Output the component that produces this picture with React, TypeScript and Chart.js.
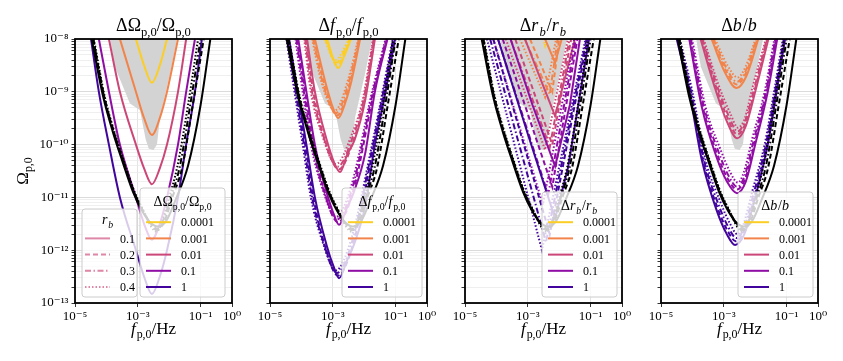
import React, { useEffect, useRef } from 'react';
import { Chart, registerables } from 'chart.js';

Chart.register(...registerables);

type Pt = [number, number]; // [log10 f, log10 Omega]
type Seg = { t: string; it?: boolean; sub?: boolean };

// ---------------- data ----------------
const levelLabels = ['0.0001', '0.001', '0.01', '0.1', '1'];
const rbLabels = ['0.1', '0.2', '0.3', '0.4'];
const levelColors = ['#fcce25', '#f2844b', '#cc4778', '#8f0da4', '#41049d'];
const xTickValues = [1e-5, 1e-3, 1e-1, 1];
const yDecades = [-13, -12, -11, -10, -9, -8];

// gray region (lower boundary, filled up to the top of the axis)
const grayRegion: Pt[] = [
  [-3.88, -8], [-3.73, -8.53], [-3.25, -9.22], [-2.93, -9.35], [-2.75, -9.9], [-2.65, -10.08],
  [-2.5, -10.1], [-2.39, -10.0], [-2.29, -9.48], [-1.97, -8.65], [-1.75, -8],
];

// black curves: r_b = 0.1 (solid), 0.2 (dashed), 0.3 (dash-dot), 0.4 (dotted)
const blackCurves: Pt[][] = [
  [[-4.47, -8], [-4.1, -9.1], [-3.8, -9.75], [-3.5, -10.3], [-3.15, -10.9], [-2.87, -11.25], [-2.61, -11.47], [-2.35, -11.55], [-2.1, -11.45], [-1.8, -11.05], [-1.4, -10.4], [-1.0, -9.25], [-0.69, -8]],
  [[-4.42, -8], [-4.07, -9.1], [-3.77, -9.75], [-3.47, -10.3], [-3.12, -10.9], [-2.84, -11.25], [-2.58, -11.5], [-2.35, -11.6], [-2.15, -11.45], [-1.9, -11.0], [-1.59, -10.44], [-1.25, -9.25], [-0.9, -8]],
  [[-4.42, -8], [-4.07, -9.1], [-3.77, -9.75], [-3.47, -10.3], [-3.12, -10.9], [-2.84, -11.25], [-2.58, -11.52], [-2.38, -11.62], [-2.2, -11.45], [-1.95, -11.0], [-1.67, -10.44], [-1.33, -9.25], [-1.0, -8]],
  [[-4.4, -8], [-4.05, -9.1], [-3.75, -9.75], [-3.45, -10.3], [-3.1, -10.9], [-2.82, -11.25], [-2.58, -11.55], [-2.4, -11.65], [-2.22, -11.45], [-2.0, -11.0], [-1.75, -10.44], [-1.4, -9.25], [-1.08, -8]],
];

// Panel 1: dOmega/Omega (r_b variants overlap, shown as one line per level)
const omegaCurves: Pt[][][] = [
  [[[-3.06, -8], [-2.8, -8.5], [-2.55, -8.83], [-2.3, -8.5], [-2.07, -8]]],
  [[[-3.57, -8], [-3.06, -9], [-2.8, -9.5], [-2.55, -9.82], [-2.3, -9.5], [-2.07, -9], [-1.72, -8]]],
  [[[-3.92, -8], [-3.57, -9], [-3.06, -10], [-2.8, -10.45], [-2.55, -10.75], [-2.3, -10.45], [-2.07, -10], [-1.72, -9], [-1.46, -8]]],
  [[[-4.24, -8], [-3.92, -9], [-3.57, -10], [-3.06, -11], [-2.8, -11.5], [-2.55, -11.8], [-2.3, -11.5], [-2.07, -11], [-1.72, -10], [-1.46, -9], [-1.18, -8]]],
  [[[-4.49, -8], [-4.24, -9], [-3.92, -10], [-3.57, -11], [-3.06, -12], [-2.8, -12.5], [-2.55, -12.83], [-2.3, -12.5], [-2.07, -12], [-1.72, -11], [-1.46, -10], [-1.18, -9], [-0.96, -8]]],
];

// Panel 2: df/f  (per level: solid, dashed, dash-dot, dotted)
const freqCurves: Pt[][][] = [
  [
    [[-3.18, -8], [-2.98, -8.38], [-2.83, -8.55], [-2.62, -8.3], [-2.42, -8]],
    [[-3.21, -8], [-2.87, -8.5], [-2.44, -8]],
    [[-3.24, -8], [-2.9, -8.45], [-2.46, -8]],
    [[-3.27, -8], [-2.93, -8.4], [-2.48, -8]],
  ],
  [
    [[-3.57, -8], [-3.2, -8.9], [-2.98, -9.33], [-2.83, -9.5], [-2.6, -9.2], [-2.4, -8.78], [-2.13, -8]],
    [[-3.6, -8], [-3.25, -8.9], [-2.87, -9.45], [-2.43, -8.78], [-2.15, -8]],
    [[-3.63, -8], [-3.3, -8.87], [-2.9, -9.4], [-2.46, -8.75], [-2.17, -8]],
    [[-3.66, -8], [-3.35, -8.84], [-2.93, -9.35], [-2.49, -8.72], [-2.19, -8]],
  ],
  [
    [[-3.82, -8], [-3.57, -9], [-3.2, -9.9], [-2.95, -10.35], [-2.77, -10.52], [-2.55, -10.2], [-2.3, -9.9], [-1.97, -9.16], [-1.66, -8]],
    [[-3.85, -8], [-3.62, -9], [-3.26, -9.9], [-2.81, -10.47], [-2.33, -9.9], [-1.99, -9.16], [-1.68, -8]],
    [[-3.88, -8], [-3.66, -9], [-3.3, -9.85], [-2.85, -10.42], [-2.36, -9.85], [-2.02, -9.16], [-1.7, -8]],
    [[-3.91, -8], [-3.7, -9], [-3.35, -9.8], [-2.9, -10.37], [-2.39, -9.8], [-2.05, -9.16], [-1.72, -8]],
  ],
  [
    [[-4.1, -8], [-3.84, -9], [-3.57, -10], [-3.2, -10.9], [-2.95, -11.35], [-2.8, -11.52], [-2.55, -11.2], [-2.33, -10.9], [-1.97, -10.17], [-1.66, -9], [-1.26, -8]],
    [[-4.13, -8], [-3.88, -9], [-3.62, -10], [-3.26, -10.9], [-2.84, -11.47], [-2.36, -10.9], [-1.69, -9], [-1.28, -8]],
    [[-4.16, -8], [-3.92, -9], [-3.66, -10], [-3.3, -10.85], [-2.87, -11.42], [-2.39, -10.85], [-1.72, -9], [-1.3, -8]],
    [[-4.19, -8], [-3.96, -9], [-3.7, -10], [-3.35, -10.8], [-2.9, -11.37], [-2.42, -10.8], [-1.75, -9], [-1.32, -8]],
  ],
  [
    [[-4.39, -8], [-4.12, -9], [-3.84, -10], [-3.57, -11], [-3.2, -11.9], [-2.95, -12.35], [-2.8, -12.53], [-2.55, -12.2], [-2.33, -11.9], [-1.97, -11.17], [-1.66, -10], [-1.32, -9], [-1.02, -8]],
    [[-4.42, -8], [-3.88, -10], [-3.62, -11], [-3.26, -11.9], [-2.84, -12.48], [-2.36, -11.9], [-1.69, -10], [-1.05, -8]],
    [[-4.45, -8], [-3.92, -10], [-3.66, -11], [-3.3, -11.85], [-2.87, -12.43], [-2.39, -11.85], [-1.72, -10], [-1.07, -8]],
    [[-4.48, -8], [-3.96, -10], [-3.7, -11], [-3.35, -11.8], [-2.9, -12.38], [-2.42, -11.8], [-1.75, -10], [-1.09, -8]],
  ],
];

// Panel 3: dr_b/r_b
const rbCurves: Pt[][][] = [
  [
    [[-2.5, -7], [-2.13, -7.45], [-1.95, -7]],
    [[-2.5, -7.5], [-2.22, -7.95], [-2.1, -7.5]],
    [[-2.6, -7.6], [-2.3, -8.02], [-2.15, -7.6]],
    [[-2.6, -7.8], [-2.45, -8.12], [-2.33, -7.8]],
  ],
  [
    [[-2.45, -8], [-2.13, -8.45], [-1.92, -8]],
    [[-2.93, -8], [-2.22, -9.0], [-2.0, -8]],
    [[-3.1, -8], [-2.3, -9.05], [-2.05, -8]],
    [[-3.25, -8], [-2.45, -9.1], [-2.1, -8]],
  ],
  [
    [[-3.09, -8], [-2.6, -8.75], [-2.13, -9.46], [-1.8, -8.7], [-1.5, -8]],
    [[-3.4, -8], [-2.22, -10.0], [-1.62, -8]],
    [[-3.55, -8], [-2.3, -10.05], [-1.67, -8]],
    [[-3.7, -8], [-2.45, -10.1], [-1.72, -8]],
  ],
  [
    [[-3.55, -8], [-2.85, -9.25], [-2.13, -10.41], [-1.66, -9.25], [-1.34, -8]],
    [[-3.8, -8], [-2.22, -10.8], [-1.42, -8]],
    [[-3.95, -8], [-2.35, -10.95], [-1.47, -8]],
    [[-4.1, -8], [-2.52, -11.14], [-1.52, -8]],
  ],
  [
    [[-3.95, -8], [-3.0, -9.8], [-2.13, -11.4], [-1.72, -10.44], [-1.05, -8]],
    [[-4.1, -8], [-2.3, -11.7], [-1.1, -8]],
    [[-4.2, -8], [-2.42, -11.85], [-1.13, -8]],
    [[-4.3, -8], [-2.55, -12.0], [-1.16, -8]],
  ],
];

// Panel 4: db/b
const bCurves: Pt[][][] = [
  [
    [[-2.9, -7.5], [-2.6, -7.93], [-2.3, -7.5]],
    [[-2.9, -7.5], [-2.6, -7.86], [-2.3, -7.5]],
    [[-2.9, -7.5], [-2.6, -7.81], [-2.3, -7.5]],
    [[-2.9, -7.5], [-2.6, -7.73], [-2.3, -7.5]],
  ],
  [
    [[-3.39, -8], [-2.95, -8.65], [-2.59, -8.93], [-2.28, -8.7], [-1.9, -8]],
    [[-3.36, -8], [-2.93, -8.6], [-2.59, -8.86], [-2.29, -8.64], [-1.93, -8]],
    [[-3.33, -8], [-2.91, -8.56], [-2.58, -8.81], [-2.3, -8.6], [-1.96, -8]],
    [[-3.28, -8], [-2.88, -8.5], [-2.56, -8.73], [-2.31, -8.53], [-1.99, -8]],
  ],
  [
    [[-3.74, -8], [-3.28, -8.93], [-2.91, -9.55], [-2.57, -9.88], [-2.3, -9.65], [-2.0, -9.0], [-1.58, -8]],
    [[-3.71, -8], [-3.25, -8.9], [-2.88, -9.5], [-2.57, -9.81], [-2.31, -9.6], [-2.03, -9.0], [-1.61, -8]],
    [[-3.68, -8], [-3.22, -8.88], [-2.85, -9.45], [-2.56, -9.75], [-2.32, -9.55], [-2.06, -9.0], [-1.63, -8]],
    [[-3.64, -8], [-3.18, -8.85], [-2.8, -9.4], [-2.55, -9.68], [-2.33, -9.5], [-2.1, -8.95], [-1.66, -8]],
  ],
  [
    [[-4.1, -8], [-3.7, -9.29], [-3.23, -10.24], [-2.9, -10.7], [-2.58, -10.92], [-2.3, -10.7], [-2.0, -10.0], [-1.6, -9.0], [-1.3, -8]],
    [[-4.08, -8], [-3.67, -9.29], [-3.2, -10.2], [-2.87, -10.65], [-2.58, -10.85], [-2.32, -10.65], [-2.03, -10.0], [-1.63, -9.0], [-1.33, -8]],
    [[-4.05, -8], [-3.63, -9.29], [-3.16, -10.15], [-2.84, -10.6], [-2.57, -10.8], [-2.34, -10.6], [-2.06, -9.95], [-1.66, -9.0], [-1.36, -8]],
    [[-4.01, -8], [-3.58, -9.29], [-3.1, -10.1], [-2.8, -10.52], [-2.55, -10.72], [-2.36, -10.52], [-2.1, -9.9], [-1.7, -9.0], [-1.39, -8]],
  ],
  [
    [[-4.5, -8], [-4.1, -9.0], [-3.7, -10.29], [-3.23, -11.24], [-2.9, -11.7], [-2.64, -11.9], [-2.35, -11.7], [-2.0, -11.0], [-1.6, -10.0], [-1.32, -9.0], [-1.05, -8]],
    [[-4.47, -8], [-4.07, -9.0], [-3.67, -10.29], [-3.2, -11.2], [-2.88, -11.63], [-2.62, -11.83], [-2.36, -11.65], [-2.03, -11.0], [-1.63, -10.0], [-1.35, -9.0], [-1.07, -8]],
    [[-4.44, -8], [-4.04, -9.0], [-3.63, -10.29], [-3.16, -11.15], [-2.85, -11.57], [-2.6, -11.77], [-2.37, -11.6], [-2.06, -10.95], [-1.66, -10.0], [-1.37, -9.0], [-1.09, -8]],
    [[-4.4, -8], [-4.0, -9.0], [-3.58, -10.29], [-3.1, -11.1], [-2.8, -11.5], [-2.56, -11.7], [-2.38, -11.52], [-2.1, -10.9], [-1.7, -10.0], [-1.4, -9.0], [-1.12, -8]],
  ],
];

// ---------------- styles / layout ----------------
const FONT = "'Liberation Serif', 'DejaVu Serif', serif";
const DASHES: number[][] = [[], [5, 3], [6, 2.5, 1.5, 2.5], [1.5, 2]];
const PLOT_LEFTS = [75, 270, 465, 661];
const PLOT_W = 157;
const M_LEFT = 65;
const M_RIGHT = 22;
const W = M_LEFT + PLOT_W + M_RIGHT;
const H = 361;
const LW = 2;

const titles: Seg[][] = [
  [{ t: 'ΔΩ' }, { t: 'p,0', sub: true }, { t: '/Ω' }, { t: 'p,0', sub: true }],
  [{ t: 'Δ' }, { t: 'f', it: true }, { t: 'p,0', sub: true }, { t: '/' }, { t: 'f', it: true }, { t: 'p,0', sub: true }],
  [{ t: 'Δ' }, { t: 'r', it: true }, { t: 'b', it: true, sub: true }, { t: '/' }, { t: 'r', it: true }, { t: 'b', it: true, sub: true }],
  [{ t: 'Δ' }, { t: 'b', it: true }, { t: '/' }, { t: 'b', it: true }],
];
const legendBox = [
  { w: 85, h: 109, inset: 7 },
  { w: 80, h: 109, inset: 5 },
  { w: 75, h: 105, inset: 5 },
  { w: 75, h: 105, inset: 5 },
];
const panelCurves = [omegaCurves, freqCurves, rbCurves, bCurves];
const panelSmooth = [true, true, false, true];

const SUP: Record<string, string> = { '-': '⁻', '0': '⁰', '1': '¹', '2': '²', '3': '³', '4': '⁴', '5': '⁵', '6': '⁶', '7': '⁷', '8': '⁸', '9': '⁹' };
function powLabel(v: number) {
  const e = Math.round(Math.log10(v));
  return '10' + String(e).split('').map((c) => SUP[c] || c).join('');
}
function isMajor(v: number) {
  const l = Math.log10(v);
  return Math.abs(l - Math.round(l)) < 1e-6;
}
const yTickValues: number[] = [];
yDecades.forEach((d, i) => {
  if (i === yDecades.length - 1) { yTickValues.push(Math.pow(10, d)); return; }
  for (let k = 1; k <= 9; k++) yTickValues.push(k * Math.pow(10, d));
});

function segFont(s: Seg, size: number) {
  const sz = s.sub ? size * 0.7 : size;
  return `${s.it ? 'italic ' : ''}${sz}px ${FONT}`;
}
function segW(ctx: CanvasRenderingContext2D, s: Seg, size: number) {
  ctx.font = segFont(s, size);
  return ctx.measureText(s.t).width + (s.it ? size * 0.06 : 0);
}
function drawRich(ctx: CanvasRenderingContext2D, segs: Seg[], x: number, y: number, size: number, align = 'center') {
  let w = 0;
  for (const s of segs) w += segW(ctx, s, size);
  let cx = align === 'center' ? x - w / 2 : align === 'right' ? x - w : x;
  ctx.save();
  ctx.fillStyle = '#000';
  ctx.textAlign = 'left';
  ctx.textBaseline = 'alphabetic';
  for (const s of segs) {
    ctx.font = segFont(s, size);
    ctx.fillText(s.t, cx, y + (s.sub ? size * 0.25 : 0));
    cx += segW(ctx, s, size);
  }
  ctx.restore();
}
function drawBox(ctx: CanvasRenderingContext2D, x: number, y: number, w: number, h: number) {
  ctx.save();
  ctx.beginPath();
  (ctx as any).roundRect(x, y, w, h, 3);
  ctx.fillStyle = 'rgba(255,255,255,0.8)';
  ctx.fill();
  ctx.strokeStyle = '#cccccc';
  ctx.lineWidth = 1;
  ctx.stroke();
  ctx.restore();
}
function drawEntry(ctx: CanvasRenderingContext2D, x: number, y: number, color: string, dash: number[], label: string) {
  ctx.save();
  ctx.strokeStyle = color;
  ctx.lineWidth = LW;
  ctx.setLineDash(dash);
  ctx.beginPath();
  ctx.moveTo(x, y);
  ctx.lineTo(x + 25, y);
  ctx.stroke();
  ctx.setLineDash([]);
  ctx.fillStyle = '#000';
  ctx.font = `12px ${FONT}`;
  ctx.textBaseline = 'middle';
  ctx.textAlign = 'left';
  ctx.fillText(label, x + 35, y + 1);
  ctx.restore();
}

function toXY(c: Pt[]) {
  return c.map(([lf, lo]) => ({ x: Math.pow(10, lf), y: Math.pow(10, lo) }));
}

function Panel({ idx }: { idx: number }) {
  const ref = useRef<HTMLCanvasElement>(null);
  useEffect(() => {
    const canvas = ref.current!;
    const layers: any[] = [];
    layers.push({
      data: toXY(grayRegion), fill: 'end', backgroundColor: '#d3d3d3', borderWidth: 0,
      borderColor: 'rgba(0,0,0,0)', pointRadius: 0, tension: 0,
    });
    const curves = panelCurves[idx];
    curves.forEach((styles, li) => {
      styles.forEach((c, si) => {
        layers.push({
          data: toXY(c), borderColor: levelColors[li], borderWidth: LW, borderDash: DASHES[si],
          pointRadius: 0, fill: false,
          cubicInterpolationMode: panelSmooth[idx] ? 'monotone' : 'default', tension: 0,
        });
      });
    });
    blackCurves.forEach((c, si) => {
      layers.push({
        data: toXY(c), borderColor: '#000', borderWidth: LW, borderDash: DASHES[si],
        pointRadius: 0, fill: false, cubicInterpolationMode: 'monotone', tension: 0,
      });
    });
    const N = layers.length;
    layers.forEach((d, i) => { d.order = N - i; });

    const decor = {
      id: 'decor' + idx,
      afterDraw(chart: any) {
        const ctx: CanvasRenderingContext2D = chart.ctx;
        const a = chart.chartArea;
        const cxm = (a.left + a.right) / 2;
        // level legend
        const lb = legendBox[idx];
        const bx = a.right - lb.inset - lb.w;
        const by = a.bottom - 6 - lb.h;
        drawBox(ctx, bx, by, lb.w, lb.h);
        drawRich(ctx, titles[idx], bx + lb.w / 2, by + 18, 14);
        levelLabels.forEach((lab, i) => {
          drawEntry(ctx, bx + 6, a.bottom - 16 - 16.2 * (4 - i), levelColors[i], [], lab);
        });
        if (idx === 0) {
          const rx = a.left + 7;
          const ry = a.top + 170;
          const rh = a.bottom - 6 - ry;
          drawBox(ctx, rx, ry, 55, rh);
          drawRich(ctx, [{ t: 'r', it: true }, { t: 'b', it: true, sub: true }], rx + 26, ry + 15, 14);
          rbLabels.forEach((lab, i) => {
            drawEntry(ctx, rx + 3, a.bottom - 16 - 16.2 * (3 - i), 'rgba(204,71,120,0.65)', DASHES[i], lab);
          });
          // y-axis label
          ctx.save();
          ctx.translate(a.left - 47, (a.top + a.bottom) / 2);
          ctx.rotate(-Math.PI / 2);
          drawRich(ctx, [{ t: 'Ω' }, { t: 'p,0', sub: true }], 0, 0, 17);
          ctx.restore();
        }
        // frame
        ctx.save();
        ctx.strokeStyle = '#000';
        ctx.lineWidth = 1.8;
        ctx.strokeRect(a.left, a.top, a.right - a.left, a.bottom - a.top);
        ctx.restore();
        // title & x label
        drawRich(ctx, titles[idx], cxm, 31, 18);
        drawRich(ctx, [{ t: 'f', it: true }, { t: 'p,0', sub: true }, { t: '/Hz' }], cxm, 334, 17);
      },
    };

    const chart = new Chart(canvas, {
      type: 'line',
      data: { datasets: layers },
      options: {
        responsive: false,
        animation: false,
        devicePixelRatio: 1,
        layout: { padding: { left: 0, right: M_RIGHT, top: 39, bottom: 0 } },
        plugins: { legend: { display: false }, tooltip: { enabled: false } },
        scales: {
          x: {
            type: 'logarithmic', min: 1e-5, max: 1,
            afterBuildTicks: (s: any) => { s.ticks = xTickValues.map((v) => ({ value: v })); },
            afterFit: (s: any) => { s.height = H - 303; },
            ticks: {
              autoSkip: false, maxRotation: 0, minRotation: 0, padding: 2, color: '#000',
              font: { family: FONT, size: 13 },
              callback: (v: any) => powLabel(Number(v)),
            },
            grid: { color: '#dcdcdc', lineWidth: 0.8, tickColor: '#000', tickLength: 4 },
            border: { display: false },
          },
          y: {
            type: 'logarithmic', min: 1e-13, max: 1e-8,
            afterBuildTicks: (s: any) => { s.ticks = yTickValues.map((v) => ({ value: v })); },
            afterFit: (s: any) => { s.width = M_LEFT; },
            ticks: {
              autoSkip: false, padding: 3, color: '#000',
              font: { family: FONT, size: 13 },
              callback: (v: any) => (idx === 0 && isMajor(Number(v)) ? powLabel(Number(v)) : ''),
            },
            grid: {
              color: (c: any) => (c.tick && isMajor(c.tick.value) ? '#d2d2d2' : '#ebebeb'),
              lineWidth: 0.8,
              tickColor: '#000',
              tickLength: 3.5,
            },
            border: { display: false },
          },
        },
      },
      plugins: [decor],
    } as any);
    return () => chart.destroy();
  }, [idx]);
  return (
    <canvas
      ref={ref}
      width={W}
      height={H}
      style={{ position: 'absolute', left: PLOT_LEFTS[idx] - M_LEFT, top: 0, width: W, height: H }}
    />
  );
}

export default function App() {
  return (
    <div style={{ position: 'fixed', left: 0, top: 0, width: 843, height: 361, background: '#fff', overflow: 'hidden' }}>
      {[0, 1, 2, 3].map((i) => (
        <Panel key={i} idx={i} />
      ))}
    </div>
  );
}
